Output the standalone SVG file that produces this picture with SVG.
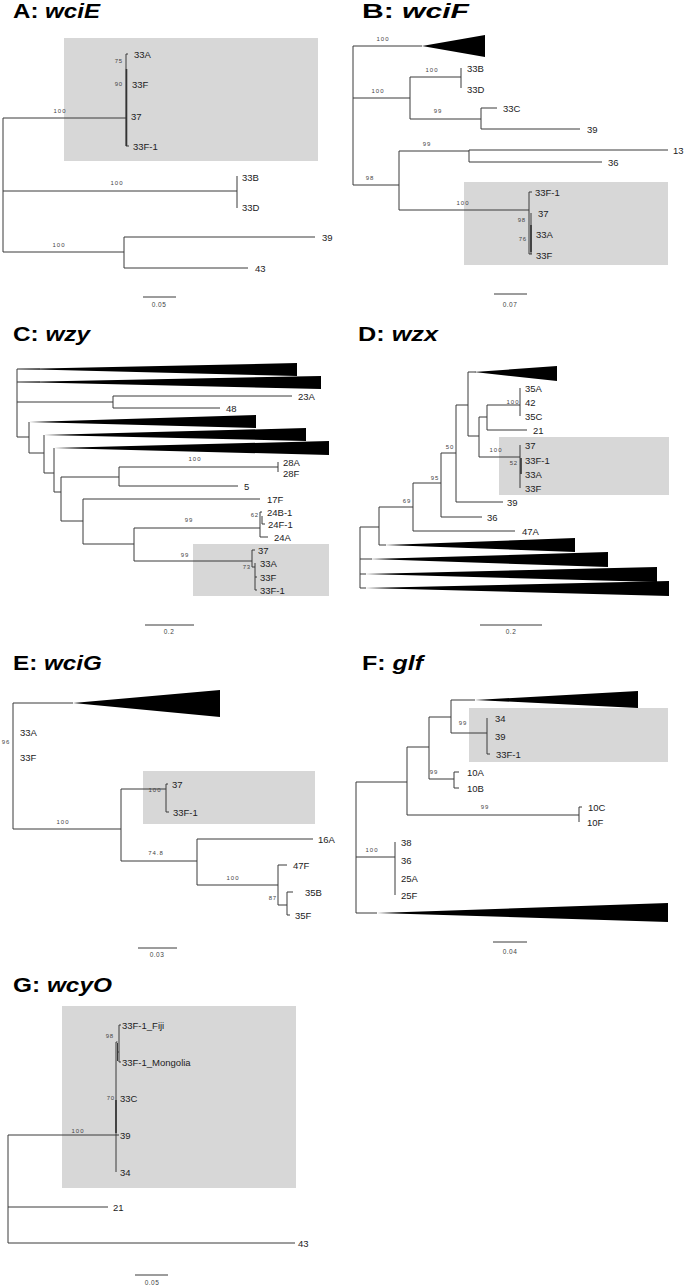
<svg xmlns="http://www.w3.org/2000/svg" width="684" height="1287" viewBox="0 0 684 1287">
<style>
.br{fill:none;stroke:#3a3a3a;stroke-width:1}
.thick{fill:none;stroke:#333;stroke-width:1.6}
.tri{fill:#000}
.hl{fill:#d7d7d7}
.lf{font-family:"Liberation Sans",Arial,sans-serif;font-size:9.5px;fill:#222}
.bs{font-family:"Liberation Sans",Arial,sans-serif;font-size:6px;letter-spacing:1px;fill:#444;text-anchor:middle}
.bse{font-family:"Liberation Sans",Arial,sans-serif;font-size:6px;letter-spacing:0.8px;fill:#444;text-anchor:end}
.sc{font-family:"Liberation Sans",Arial,sans-serif;font-size:6.5px;letter-spacing:0.5px;fill:#444;text-anchor:middle}
.tt{font-family:"Liberation Sans",Arial,sans-serif;font-size:19.5px;font-weight:bold;fill:#000}
</style>
<rect width="684" height="1287" fill="#fff"/>

<!-- Panel A -->
<g id="panelA">
<text id="A-title" class="tt" x="13" y="18" textLength="87" lengthAdjust="spacingAndGlyphs">A: <tspan font-style="italic">wciE</tspan></text>
<rect class="hl" x="64" y="38" width="254" height="123"/>
<g id="A-edges">
<path class="br" d="M3 118V252M3 118H126M126 54V146M126 54H128M126 146H129M3 191H237M237 176V208M3 252H124M124 237V268M124 237H315M124 268H248M143 297H176"/>
<path class="thick" d="M126.5 69V146"/>
</g>
<g id="A-labels">
<text class="bse" x="123" y="63">75</text>
<text class="bse" x="123" y="86">90</text>
<text class="bs" x="60" y="113">100</text>
<text class="lf" x="134" y="57.5">33A</text>
<text class="lf" x="132" y="87.5">33F</text>
<text class="lf" x="131" y="119.5">37</text>
<text class="lf" x="133" y="149.5">33F-1</text>
<text class="bs" x="117" y="185">100</text>
<text class="lf" x="242" y="180.5">33B</text>
<text class="lf" x="242" y="210.5">33D</text>
<text class="bs" x="59" y="247">100</text>
<text class="lf" x="322" y="240.5">39</text>
<text class="lf" x="255" y="271.5">43</text>
<text class="sc" x="159" y="307">0.05</text>
</g>
</g>

<!-- Panel B -->
<g id="panelB">
<text id="B-title" class="tt" x="362" y="18" textLength="107" lengthAdjust="spacingAndGlyphs">B: <tspan font-style="italic">wciF</tspan></text>
<rect class="hl" x="464" y="182" width="204" height="83"/>
<g id="B-edges">
<polygon class="tri" points="422,46 485,35 485,57"/>
<path class="br" d="M353 46H422M353 46V185M353 98H410M410 77V119M410 77H461M461 68V88M410 119H481M481 108V129M481 108H497M481 129H580M353 185H399M399 151V210M399 151H469M469 150V162M469 150H668M469 162H602M399 210H529M529 192V254M529 192H532M531 213V254M529 254H532M494 294H527"/>
<path class="thick" d="M531 225V252"/>
</g>
<g id="B-labels">
<text class="bs" x="383" y="41">100</text>
<text class="bs" x="378" y="93">100</text>
<text class="bs" x="432" y="72">100</text>
<text class="lf" x="467" y="71.5">33B</text>
<text class="lf" x="467" y="92.5">33D</text>
<text class="bs" x="438" y="113">99</text>
<text class="lf" x="503" y="111.5">33C</text>
<text class="lf" x="587" y="132.5">39</text>
<text class="bs" x="370" y="180">98</text>
<text class="bs" x="427" y="146">99</text>
<text class="lf" x="673" y="153.5">13</text>
<text class="lf" x="608" y="165.5">36</text>
<text class="bs" x="463" y="205">100</text>
<text class="bse" x="526" y="222">98</text>
<text class="bse" x="527" y="241">76</text>
<text class="lf" x="535" y="195.5">33F-1</text>
<text class="lf" x="538" y="216.5">37</text>
<text class="lf" x="536" y="237.5">33A</text>
<text class="lf" x="536" y="258.5">33F</text>
<text class="sc" x="510" y="307">0.07</text>
</g>
</g>

<!-- Panel C -->
<g id="panelC">
<text id="C-title" class="tt" x="13" y="341" textLength="77" lengthAdjust="spacingAndGlyphs">C: <tspan font-style="italic">wzy</tspan></text>
<rect class="hl" x="193" y="544" width="136" height="52"/>
<g id="C-edges">
<polygon class="tri" points="17,369 297,363 297,376"/>
<polygon class="tri" points="17,382 321,376 321,389"/>
<polygon class="tri" points="29,422 256,415 256,428"/>
<polygon class="tri" points="44,435 306,428 306,441"/>
<polygon class="tri" points="54,448 329,441 329,455"/>
<path class="br" d="M17 369V437M17 369H40M17 382H40M17 402H113M113 396V408M113 396H292M113 408H220M17 437H29M29 422V453M29 453H44M44 435V473M44 473H54M54 448V492M54 492H61M61 477V521M61 477H119M119 467V486M119 467H278M278 462V472M119 486H238M61 521H83M83 499V544M83 499H260M83 544H134M134 528V561M134 528H260M260 512V537M260 512H262M262 516V524M262 524H265M260 537H268M134 561H252M252 550V567M252 550H255M252 567H255M255 563V590M255 577H257M255 590H257M145 625H194"/>
</g>
<g id="C-labels">
<text class="lf" x="298" y="399.5">23A</text>
<text class="lf" x="226" y="411.5">48</text>
<text class="bs" x="195" y="461">100</text>
<text class="lf" x="283" y="465.5">28A</text>
<text class="lf" x="283" y="476.5">28F</text>
<text class="lf" x="244" y="489.5">5</text>
<text class="lf" x="267" y="502.5">17F</text>
<text class="bs" x="189" y="522">99</text>
<text class="bse" x="259" y="517">62</text>
<text class="lf" x="267" y="515.5">24B-1</text>
<text class="lf" x="268" y="527.5">24F-1</text>
<text class="lf" x="274" y="540.5">24A</text>
<text class="bs" x="185" y="557">99</text>
<text class="bse" x="251" y="569">73</text>
<text class="lf" x="258" y="553.5">37</text>
<text class="lf" x="260" y="566.5">33A</text>
<text class="lf" x="260" y="580.5">33F</text>
<text class="lf" x="260" y="593.5">33F-1</text>
<text class="sc" x="169" y="634">0.2</text>
</g>
</g>

<!-- Panel D -->
<g id="panelD">
<text id="D-title" class="tt" x="358" y="341" textLength="80" lengthAdjust="spacingAndGlyphs">D: <tspan font-style="italic">wzx</tspan></text>
<rect class="hl" x="499" y="437" width="170" height="58"/>
<g id="D-edges">
<polygon class="tri" points="474,372 557,366 557,381"/>
<polygon class="tri" points="385,545 575,538 575,552"/>
<polygon class="tri" points="370,559 608,552 608,567"/>
<polygon class="tri" points="365,574 657,567 657,582"/>
<polygon class="tri" points="365,588 669,581 669,596"/>
<path class="br" d="M360 527V588M360 527H379M379 507V545M379 545H386M360 559H372M360 574H366M360 588H366M379 507H413M413 483V531M413 483H441M441 453V517M441 453H456M456 405V502M456 405H468M468 372V436M468 372H476M468 436H479M479 417V457M479 417H487M487 405V430M487 405H520M520 388V416M487 430H527M479 457H520M520 445V488M456 502H503M441 517H482M413 531H515M480 625H542"/>
<path class="thick" d="M521 458V474"/>
</g>
<g id="D-labels">
<text class="bs" x="513" y="404">100</text>
<text class="lf" x="525" y="391.5">35A</text>
<text class="lf" x="525" y="405.5">42</text>
<text class="lf" x="525" y="419.5">35C</text>
<text class="lf" x="533" y="433.5">21</text>
<text class="bs" x="496" y="452">100</text>
<text class="bse" x="518" y="465">52</text>
<text class="lf" x="525" y="448.5">37</text>
<text class="lf" x="525" y="463.5">33F-1</text>
<text class="lf" x="525" y="477.5">33A</text>
<text class="lf" x="525" y="491.5">33F</text>
<text class="bs" x="450" y="449">50</text>
<text class="lf" x="507" y="505.5">39</text>
<text class="bs" x="435" y="480">95</text>
<text class="lf" x="487" y="520.5">36</text>
<text class="bs" x="407" y="503">69</text>
<text class="lf" x="522" y="534.5">47A</text>
<text class="sc" x="511" y="634">0.2</text>
</g>
</g>

<!-- Panel E -->
<g id="panelE">
<text id="E-title" class="tt" x="13" y="670" textLength="89" lengthAdjust="spacingAndGlyphs">E: <tspan font-style="italic">wciG</tspan></text>
<rect class="hl" x="143" y="771" width="172" height="53"/>
<g id="E-edges">
<polygon class="tri" points="73,703 220,690 220,717"/>
<path class="br" d="M13 703V829M13 703H73M13 829H121M121 789V861M121 789H166M166 784V812M166 784H168M166 812H169M121 861H197M197 839V885M197 839H313M197 885H278M278 865V905M278 865H287M278 905H287M287 892V915M287 892H293M287 915H290M138 948H177"/>
</g>
<g id="E-labels">
<text class="bs" x="6" y="744">96</text>
<text class="lf" x="20" y="735.5">33A</text>
<text class="lf" x="20" y="760.5">33F</text>
<text class="bs" x="63" y="824">100</text>
<text class="bs" x="155" y="792">100</text>
<text class="lf" x="172" y="787.5">37</text>
<text class="lf" x="173" y="815.5">33F-1</text>
<text class="bs" x="156" y="855">74.8</text>
<text class="lf" x="318" y="842.5">16A</text>
<text class="bs" x="233" y="880">100</text>
<text class="lf" x="293" y="868.5">47F</text>
<text class="bse" x="277" y="900">87</text>
<text class="lf" x="305" y="895.5">35B</text>
<text class="lf" x="295" y="918.5">35F</text>
<text class="sc" x="157" y="957">0.03</text>
</g>
</g>

<!-- Panel F -->
<g id="panelF">
<text id="F-title" class="tt" x="362" y="670" textLength="61" lengthAdjust="spacingAndGlyphs">F: <tspan font-style="italic">glf</tspan></text>
<rect class="hl" x="469" y="708" width="199" height="54"/>
<g id="F-edges">
<polygon class="tri" points="475,700 638,691 638,708"/>
<polygon class="tri" points="377,913 668,903 668,922"/>
<path class="br" d="M356 782V913M356 913H377M356 782H407M407 747V815M407 747H429M429 717V779M429 717H451M451 700V733M451 700H475M451 733H487M487 718V754M487 754H490M429 779H454M454 772V788M454 772H459M454 788H459M407 815H579M579 807V822M579 807H582M356 857H395M395 842V895M493 942H527"/>
</g>
<g id="F-labels">
<text class="bs" x="463" y="725">99</text>
<text class="lf" x="495" y="721.5">34</text>
<text class="lf" x="495" y="739.5">39</text>
<text class="lf" x="496" y="757.5">33F-1</text>
<text class="bs" x="434" y="774">99</text>
<text class="lf" x="467" y="775.5">10A</text>
<text class="lf" x="467" y="791.5">10B</text>
<text class="bs" x="485" y="809">99</text>
<text class="lf" x="588" y="810.5">10C</text>
<text class="lf" x="587" y="825.5">10F</text>
<text class="bs" x="372" y="852">100</text>
<text class="lf" x="401" y="845.5">38</text>
<text class="lf" x="401" y="863.5">36</text>
<text class="lf" x="401" y="881.5">25A</text>
<text class="lf" x="401" y="898.5">25F</text>
<text class="sc" x="510" y="954">0.04</text>
</g>
</g>

<!-- Panel G -->
<g id="panelG">
<text id="G-title" class="tt" x="13" y="992" textLength="99" lengthAdjust="spacingAndGlyphs">G: <tspan font-style="italic">wcyO</tspan></text>
<rect class="hl" x="62" y="1006" width="234" height="182"/>
<g id="G-edges">
<path class="br" d="M8 1135V1243M8 1135H116M116 1042V1172M116 1042H117.5M117.5 1043V1061M117.5 1052H119M119 1025V1062M119 1025H121M119 1062H121M116 1135H119M8 1207H108M8 1243H295M135 1275H168"/>
<path class="thick" d="M116 1100V1133"/>
</g>
<g id="G-labels">
<text class="bse" x="114" y="1038">98</text>
<text class="lf" x="122" y="1028.5">33F-1_Fiji</text>
<text class="lf" x="122" y="1065.5">33F-1_Mongolia</text>
<text class="bse" x="115" y="1100">70</text>
<text class="lf" x="120" y="1101.5">33C</text>
<text class="bs" x="78" y="1133">100</text>
<text class="lf" x="120" y="1138.5">39</text>
<text class="lf" x="120" y="1175.5">34</text>
<text class="lf" x="113" y="1210.5">21</text>
<text class="lf" x="298" y="1246.5">43</text>
<text class="sc" x="152" y="1285">0.05</text>
</g>
</g>
</svg>
